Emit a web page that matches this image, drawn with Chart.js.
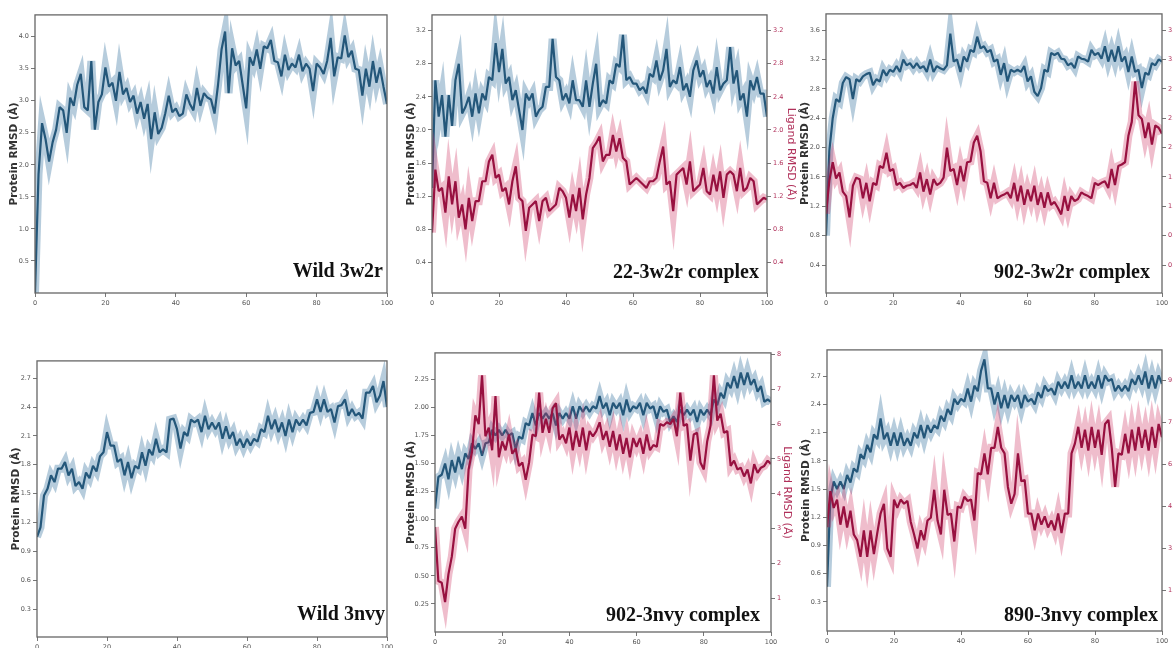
<!DOCTYPE html>
<html>
<head>
<meta charset="utf-8">
<script src="https://cdn.jsdelivr.net/npm/chart.js@4.4.1/dist/chart.umd.min.js"></script>
<style>
    body { margin: 0; background: #fff; width: 1173px; height: 648px; overflow: hidden; position: relative; }
    canvas { position: absolute; }
</style>
</head>
<body>
<canvas id="p1"></canvas>
<canvas id="p2"></canvas>
<canvas id="p3"></canvas>
<canvas id="p4"></canvas>
<canvas id="p5"></canvas>
<canvas id="p6"></canvas>
<script>
'use strict';

// panel titles
var panelNames = ['Wild 3w2r', '22-3w2r complex', '902-3w2r complex',
                  'Wild 3nvy', '902-3nvy complex', '890-3nvy complex'];

// simulation time, one frame per ns
var timeNs = [];
for (var t = 0; t <= 100; t++) timeNs.push(t);
var timeTicks = ['0', '20', '40', '60', '80', '100'];

// protein backbone RMSD (A), 3w2r runs
var wild3w2rProtein = [
    0.00, 1.85, 2.65, 2.40, 2.05, 2.35, 2.55, 2.90, 2.85, 2.50,
    3.05, 2.92, 3.25, 3.42, 2.90, 2.85, 3.62, 2.55, 2.98, 3.10,
    3.52, 3.22, 3.28, 3.00, 3.45, 3.10, 3.20, 2.98, 3.08, 2.80,
    2.98, 2.72, 2.95, 2.40, 2.82, 2.48, 2.58, 2.80, 3.08, 2.82,
    2.88, 2.76, 2.80, 3.10, 2.95, 2.85, 3.20, 2.92, 3.12, 3.05,
    3.02, 2.80, 3.25, 3.80, 4.08, 3.12, 3.82, 3.55, 3.62, 3.25,
    2.88, 3.68, 3.55, 3.80, 3.50, 3.85, 3.82, 3.95, 3.62, 3.60,
    3.38, 3.72, 3.48, 3.58, 3.52, 3.72, 3.46, 3.58, 3.50, 3.15,
    3.58, 3.52, 3.42, 3.62, 3.98, 3.38, 3.68, 3.66, 4.02, 3.68,
    3.78, 3.50, 3.48, 3.08, 3.50, 3.22, 3.62, 3.28, 3.52, 3.22,
    2.95
];
var c22w2rProtein = [
    1.30, 2.60, 2.16, 2.42, 1.92, 2.42, 2.05, 2.60, 2.80, 2.20,
    2.28, 2.40, 2.16, 2.44, 2.20, 2.44, 2.36, 2.64, 2.60, 3.05,
    2.70, 2.98, 2.56, 2.64, 2.36, 2.48, 2.24, 2.00, 2.44, 2.36,
    2.44, 2.16, 2.24, 2.28, 2.52, 2.52, 3.10, 2.64, 2.60, 2.36,
    2.44, 2.32, 2.60, 2.36, 2.36, 2.28, 2.60, 2.28, 2.56, 2.80,
    2.28, 2.36, 2.32, 2.60, 2.56, 2.80, 2.76, 3.15, 2.60, 2.64,
    2.56, 2.56, 2.48, 2.52, 2.44, 2.68, 2.64, 2.84, 2.60, 2.72,
    2.98, 2.52, 2.60, 2.56, 2.76, 2.48, 2.56, 2.40, 2.72, 2.84,
    2.64, 2.72, 2.52, 2.60, 2.44, 2.76, 2.48, 2.56, 2.60, 3.00,
    2.56, 2.72, 2.36, 2.44, 2.16, 2.60, 2.48, 2.64, 2.44, 2.44,
    2.16
];
var c22w2rLigand = [
    0.76, 1.52, 1.26, 1.30, 1.00, 1.44, 1.10, 1.38, 0.94, 1.10,
    0.80, 1.18, 0.90, 1.14, 1.14, 1.38, 1.38, 1.62, 1.70, 1.42,
    1.46, 1.26, 1.30, 1.10, 1.38, 1.56, 1.18, 1.14, 0.78, 1.06,
    1.10, 1.14, 0.90, 1.14, 1.18, 1.02, 1.06, 1.10, 1.30, 1.26,
    1.18, 0.94, 1.22, 1.02, 1.30, 0.92, 1.22, 1.42, 1.78, 1.84,
    1.92, 1.62, 1.70, 1.70, 1.94, 1.74, 1.90, 1.66, 1.62, 1.34,
    1.38, 1.42, 1.38, 1.34, 1.30, 1.38, 1.38, 1.42, 1.62, 1.80,
    1.34, 1.38, 1.02, 1.46, 1.50, 1.54, 1.34, 1.62, 1.26, 1.30,
    1.34, 1.54, 1.26, 1.22, 1.46, 1.26, 1.50, 1.18, 1.46, 1.50,
    1.46, 1.26, 1.54, 1.26, 1.30, 1.42, 1.38, 1.10, 1.14, 1.18,
    1.16
];
var c902w2rProtein = [
    0.80, 1.96, 2.40, 2.66, 2.62, 2.88, 2.96, 2.93, 2.66, 2.93,
    2.90, 2.97, 3.00, 3.02, 2.85, 2.93, 2.90, 3.06, 2.98, 3.06,
    3.03, 3.11, 3.03, 3.20, 3.12, 3.15, 3.08, 3.15, 3.08, 3.11,
    3.03, 3.20, 3.03, 3.11, 3.08, 3.06, 3.12, 3.55, 3.17, 3.20,
    3.03, 3.24, 3.17, 3.33, 3.30, 3.51, 3.35, 3.38, 3.30, 3.33,
    3.17, 3.20, 2.99, 3.15, 2.90, 3.06, 3.03, 3.06, 3.03, 3.11,
    2.90, 2.97, 2.76, 2.70, 2.81, 3.06, 3.03, 3.29, 3.26, 3.29,
    3.21, 3.20, 3.12, 3.15, 3.08, 3.24, 3.21, 3.20, 3.17, 3.33,
    3.26, 3.29, 3.21, 3.38, 3.17, 3.33, 3.17, 3.38, 3.17, 3.24,
    3.03, 3.24, 3.03, 3.06, 2.81, 3.02, 2.99, 3.15, 3.12, 3.20,
    3.17
];
var c902w2rLigand = [
    1.10, 1.55, 1.80, 1.58, 1.66, 1.40, 1.34, 1.05, 1.48, 1.59,
    1.57, 1.31, 1.52, 1.27, 1.52, 1.49, 1.75, 1.72, 1.93, 1.68,
    1.71, 1.49, 1.52, 1.45, 1.48, 1.49, 1.52, 1.45, 1.66, 1.40,
    1.57, 1.36, 1.57, 1.49, 1.52, 1.59, 2.00, 1.68, 1.71, 1.49,
    1.75, 1.54, 1.80, 1.81, 2.07, 2.16, 1.95, 1.54, 1.52, 1.31,
    1.52, 1.31, 1.34, 1.36, 1.39, 1.31, 1.52, 1.27, 1.48, 1.22,
    1.43, 1.27, 1.48, 1.22, 1.39, 1.18, 1.39, 1.22, 1.26, 1.18,
    1.09, 1.34, 1.14, 1.34, 1.27, 1.30, 1.39, 1.36, 1.34, 1.31,
    1.52, 1.49, 1.52, 1.54, 1.45, 1.71, 1.49, 1.75, 1.77, 1.80,
    2.16, 2.35, 2.90, 2.44, 2.39, 2.13, 2.34, 2.04, 2.30, 2.27,
    2.19
];

// protein backbone RMSD (A), 3nvy runs
var wild3nvyProtein = [
    1.05, 1.15, 1.48, 1.55, 1.69, 1.62, 1.76, 1.76, 1.83, 1.69,
    1.76, 1.58, 1.62, 1.55, 1.72, 1.66, 1.79, 1.73, 1.89, 1.93,
    2.14, 2.00, 2.00, 1.83, 1.86, 1.69, 1.83, 1.66, 1.79, 1.76,
    1.93, 1.79, 1.96, 1.90, 2.07, 1.93, 1.96, 1.93, 2.27, 2.28,
    2.17, 1.97, 2.14, 2.10, 2.27, 2.24, 2.27, 2.14, 2.31, 2.17,
    2.24, 2.17, 2.24, 2.07, 2.20, 2.07, 2.14, 2.00, 2.07, 1.98,
    2.07, 2.00, 2.07, 2.04, 2.17, 2.14, 2.31, 2.17, 2.27, 2.14,
    2.24, 2.10, 2.27, 2.14, 2.27, 2.21, 2.27, 2.21, 2.34, 2.35,
    2.48, 2.35, 2.48, 2.35, 2.38, 2.24, 2.41, 2.42, 2.48, 2.31,
    2.38, 2.31, 2.34, 2.28, 2.55, 2.55, 2.62, 2.45, 2.52, 2.67,
    2.40
];
var c902nvyProtein = [
    1.10, 1.38, 1.40, 1.50, 1.36, 1.53, 1.42, 1.56, 1.45, 1.59,
    1.54, 1.68, 1.63, 1.68, 1.57, 1.68, 1.69, 1.80, 1.75, 1.80,
    1.75, 1.80, 1.75, 1.77, 1.63, 1.74, 1.72, 1.86, 1.84, 1.95,
    1.84, 1.95, 1.90, 1.95, 1.90, 1.95, 1.84, 1.95, 1.90, 1.95,
    1.90, 2.01, 1.90, 2.01, 1.96, 2.01, 1.96, 2.01, 1.99, 2.10,
    1.99, 2.04, 1.93, 2.04, 1.99, 2.04, 1.93, 2.07, 1.96, 2.01,
    1.99, 2.04, 1.93, 2.04, 1.99, 2.01, 1.90, 2.01, 1.96, 1.98,
    1.87, 1.92, 1.87, 1.98, 1.93, 1.98, 1.93, 1.98, 1.87, 1.98,
    1.93, 1.98, 1.93, 2.07, 2.02, 2.13, 2.08, 2.22, 2.17, 2.28,
    2.17, 2.31, 2.20, 2.31, 2.20, 2.25, 2.14, 2.19, 2.05, 2.07,
    2.05
];
var c902nvyLigand = [
    3.05, 1.50, 1.45, 0.90, 1.70, 2.20, 3.00, 3.20, 3.35, 3.00,
    4.70, 5.20, 6.25, 6.00, 7.40, 5.65, 5.90, 5.25, 6.80, 5.05,
    5.50, 5.25, 5.70, 5.15, 5.30, 4.80, 4.90, 4.40, 4.90, 5.70,
    5.65, 6.90, 5.75, 6.15, 5.75, 6.45, 6.60, 5.55, 5.70, 5.45,
    5.90, 5.25, 5.80, 5.35, 5.90, 5.25, 5.80, 5.65, 5.80, 6.05,
    5.55, 5.80, 5.35, 5.80, 5.25, 5.70, 5.15, 5.60, 5.05, 5.60,
    5.35, 5.60, 5.15, 5.70, 5.25, 5.40, 5.35, 6.00, 5.95, 6.05,
    6.00, 6.15, 5.65, 6.90, 5.95, 6.00, 4.95, 5.70, 5.75, 4.90,
    4.70, 5.50, 5.95, 7.40, 6.10, 6.30, 5.75, 5.80, 4.80, 4.95,
    4.70, 4.75, 4.50, 4.70, 4.30, 4.85, 4.60, 4.75, 4.80, 4.95,
    4.86
];
var c890nvyProtein = [
    0.46, 1.40, 1.58, 1.50, 1.58, 1.50, 1.65, 1.57, 1.72, 1.68,
    1.87, 1.82, 1.97, 1.89, 2.08, 2.03, 2.25, 2.03, 2.10, 1.96,
    2.10, 1.96, 2.10, 1.96, 2.04, 1.96, 2.10, 2.04, 2.18, 2.04,
    2.18, 2.10, 2.18, 2.14, 2.28, 2.22, 2.35, 2.29, 2.46, 2.40,
    2.46, 2.43, 2.57, 2.43, 2.60, 2.54, 2.76, 2.88, 2.57, 2.57,
    2.40, 2.53, 2.36, 2.50, 2.36, 2.50, 2.43, 2.50, 2.36, 2.50,
    2.43, 2.46, 2.40, 2.53, 2.47, 2.60, 2.54, 2.57, 2.50, 2.64,
    2.57, 2.64, 2.57, 2.71, 2.57, 2.64, 2.57, 2.71, 2.57, 2.64,
    2.57, 2.71, 2.57, 2.71, 2.65, 2.67, 2.54, 2.60, 2.54, 2.60,
    2.54, 2.67, 2.61, 2.71, 2.61, 2.75, 2.57, 2.71, 2.57, 2.71,
    2.62
];
var c890nvyLigand = [
    3.76, 5.05, 4.45, 4.75, 3.85, 4.50, 3.75, 4.35, 3.50, 3.30,
    2.70, 3.65, 2.70, 3.65, 2.80, 3.55, 4.25, 4.60, 3.00, 2.70,
    4.75, 4.45, 4.75, 4.60, 4.70, 3.95, 3.50, 3.00, 3.65, 3.30,
    4.00, 4.10, 5.10, 4.00, 3.50, 5.10, 4.20, 4.25, 3.25, 4.50,
    4.45, 4.85, 4.70, 4.75, 4.00, 5.70, 5.65, 6.40, 5.65, 6.60,
    6.60, 7.35, 6.60, 6.40, 5.20, 4.60, 4.95, 6.40, 5.40, 5.45,
    4.25, 4.25, 3.65, 4.25, 3.85, 4.15, 3.75, 4.00, 3.65, 4.25,
    3.55, 4.25, 4.25, 6.40, 6.75, 7.35, 6.60, 7.25, 6.50, 7.35,
    6.60, 7.25, 6.35, 7.45, 7.60, 6.60, 5.20, 6.40, 6.35, 7.10,
    6.40, 7.25, 6.50, 7.35, 6.60, 7.25, 6.50, 7.35, 6.60, 7.45,
    6.98
];

// tick labels of the RMSD axes
var ticksWild3w2r = ['0.5', '1.0', '1.5', '2.0', '2.5', '3.0', '3.5', '4.0'];
var ticks22w2r = ['0.4', '0.8', '1.2', '1.6', '2.0', '2.4', '2.8', '3.2'];
var ticks902w2r = ['0.4', '0.8', '1.2', '1.6', '2.0', '2.4', '2.8', '3.2', '3.6'];
var ticksWild3nvy = ['0.3', '0.6', '0.9', '1.2', '1.5', '1.8', '2.1', '2.4', '2.7'];
var ticks902nvy = ['0.25', '0.50', '0.75', '1.00', '1.25', '1.50', '1.75', '2.00', '2.25'];
var ticks902nvyLig = ['1', '2', '3', '4', '5', '6', '7', '8'];
var ticks890nvy = ['0.3', '0.6', '0.9', '1.2', '1.5', '1.8', '2.1', '2.4', '2.7'];
var ticks890nvyLig = ['1.5', '3.0', '4.5', '6.0', '7.5', '9.0'];

// line core and the softer band drawn under it
var BLUE = '#24577a';
var BLUE_BAND = 'rgba(62, 122, 162, 0.38)';
var RED = '#981140';
var RED_BAND = 'rgba(205, 50, 95, 0.32)';
var RED_TEXT = '#b0305a';

Chart.defaults.font.family = '"DejaVu Sans", sans-serif';

// canvas boxes on the page, axis title spacing and label offsets
var frames = [
    { left: 0,   top: 9,   width: 399, height: 304, titlePad: 8, rightAxis: 0,  labelDx: 4,  labelDy: 16 },
    { left: 397, top: 9,   width: 400, height: 304, titlePad: 8, rightAxis: 30, labelDx: 8,  labelDy: 15 },
    { left: 791, top: 8,   width: 401, height: 305, titlePad: 8, rightAxis: 30, labelDx: 12, labelDy: 15 },
    { left: 2,   top: 355, width: 397, height: 302, titlePad: 8, rightAxis: 0,  labelDx: 2,  labelDy: 17 },
    { left: 400, top: 347, width: 393, height: 305, titlePad: 5, rightAxis: 22, labelDx: 11, labelDy: 11 },
    { left: 792, top: 344, width: 400, height: 307, titlePad: 8, rightAxis: 30, labelDx: 4,  labelDy: 10 }
];

var panels = [
    { protein: wild3w2rProtein, yTicks: ticksWild3w2r, yRange: [0.0, 4.34] },
    { protein: c22w2rProtein, yTicks: ticks22w2r, yRange: [0.03, 3.39],
      ligand: c22w2rLigand, y1Ticks: ticks22w2r, y1Range: [0.03, 3.39] },
    { protein: c902w2rProtein, yTicks: ticks902w2r, yRange: [0.02, 3.82],
      ligand: c902w2rLigand, y1Ticks: ticks902w2r, y1Range: [0.02, 3.82] },
    { protein: wild3nvyProtein, yTicks: ticksWild3nvy, yRange: [0.01, 2.88] },
    { protein: c902nvyProtein, yTicks: ticks902nvy, yRange: [0.0, 2.485],
      ligand: c902nvyLigand, y1Ticks: ticks902nvyLig, y1Range: [0.04, 8.04] },
    { protein: c890nvyProtein, yTicks: ticks890nvy, yRange: [-0.01, 2.98],
      ligand: c890nvyLigand, y1Ticks: ticks890nvyLig, y1Range: [0.05, 10.1] }
];

function series(values) {
    return values.map(function(v, i) { return { x: timeNs[i], y: v }; });
}

function fixedTicks(labels) {
    return function(scale) {
        scale.ticks = labels.map(function(l) { return { value: parseFloat(l) }; });
    };
}

// a wide translucent pass (mitred, so peaks stay spiky) plus a dark core
function traceSets(values, axis, core, band, order) {
    return [{
        data: series(values), yAxisID: axis, borderColor: core, borderWidth: 2.2,
        borderJoinStyle: 'bevel', pointRadius: 0, tension: 0, order: order
    }, {
        data: series(values), yAxisID: axis, borderColor: band, borderWidth: 8,
        borderJoinStyle: 'miter', pointRadius: 0, tension: 0, order: order + 1
    }];
}

// box round the plot area, like matplotlib spines
var framePlugin = {
    id: 'frame',
    afterDatasetsDraw: function(chart) {
        var a = chart.chartArea, ctx = chart.ctx;
        ctx.save();
        ctx.strokeStyle = '#666';
        ctx.lineWidth = 1.3;
        ctx.strokeRect(a.left, a.top, a.right - a.left, a.bottom - a.top);
        ctx.restore();
    }
};

// system name written in the lower right corner
var namePlugin = {
    id: 'panelName',
    afterDraw: function(chart) {
        var o = chart.options.plugins.panelName;
        var a = chart.chartArea, ctx = chart.ctx;
        ctx.save();
        ctx.font = 'bold 20px "Liberation Serif", "Times New Roman", serif';
        ctx.fillStyle = '#111';
        ctx.textAlign = 'right';
        ctx.textBaseline = 'alphabetic';
        ctx.fillText(o.text, a.right - o.dx, a.bottom - o.dy);
        ctx.restore();
    }
};

function makePanel(idx) {
    var p = panels[idx], f = frames[idx];
    var canvas = document.getElementById('p' + (idx + 1));
    canvas.width = f.width;
    canvas.height = f.height;
    canvas.style.left = f.left + 'px';
    canvas.style.top = f.top + 'px';

    var datasets = traceSets(p.protein, 'y', BLUE, BLUE_BAND, 3);

    var scales = {
        x: {
            type: 'linear',
            min: 0,
            max: 100,
            afterBuildTicks: fixedTicks(timeTicks),
            afterFit: function(s) { s.height = 20; },
            ticks: {
                font: { size: 6.5 },
                color: '#555',
                padding: 2,
                maxRotation: 0,
                callback: function(v, i) { return timeTicks[i]; }
            },
            grid: { drawOnChartArea: false, tickLength: 4, color: '#777' },
            border: { display: false }
        },
        y: {
            type: 'linear',
            position: 'left',
            min: p.yRange[0],
            max: p.yRange[1],
            afterBuildTicks: fixedTicks(p.yTicks),
            afterFit: function(s) { s.width = 35; },
            ticks: {
                font: { size: 6.5 },
                color: '#555',
                padding: 2,
                callback: function(v, i) { return p.yTicks[i]; }
            },
            grid: { drawOnChartArea: false, tickLength: 4, color: '#777' },
            border: { display: false },
            title: {
                display: true,
                text: 'Protein RMSD (Å)',
                color: '#333',
                font: { size: 10.5, weight: 'bold' },
                padding: { top: f.titlePad, bottom: 0 }
            }
        }
    };

    if (p.ligand) {
        datasets = datasets.concat(traceSets(p.ligand, 'y1', RED, RED_BAND, 1));
        scales.y1 = {
            type: 'linear',
            position: 'right',
            min: p.y1Range[0],
            max: p.y1Range[1],
            afterBuildTicks: fixedTicks(p.y1Ticks),
            afterFit: function(s) { s.width = f.rightAxis; },
            ticks: {
                font: { size: 6.5 },
                color: RED_TEXT,
                padding: 2,
                callback: function(v, i) { return p.y1Ticks[i]; }
            },
            grid: { drawOnChartArea: false, tickLength: 4, color: '#777' },
            border: { display: false },
            title: {
                display: true,
                text: 'Ligand RMSD (Å)',
                color: RED_TEXT,
                font: { size: 11 },
                padding: { top: 0, bottom: 0 }
            }
        };
    }

    return new Chart(canvas, {
        type: 'line',
        data: { datasets: datasets },
        options: {
            responsive: false,
            animation: false,
            devicePixelRatio: 1,
            parsing: false,
            layout: { padding: { top: 5, right: p.ligand ? 0 : 12, left: 0, bottom: 0 } },
            plugins: {
                legend: { display: false },
                tooltip: { enabled: false },
                panelName: { text: panelNames[idx], dx: f.labelDx, dy: f.labelDy }
            },
            scales: scales
        },
        plugins: [framePlugin, namePlugin]
    });
}

for (var i = 0; i < panels.length; i++) makePanel(i);
</script>
</body>
</html>
